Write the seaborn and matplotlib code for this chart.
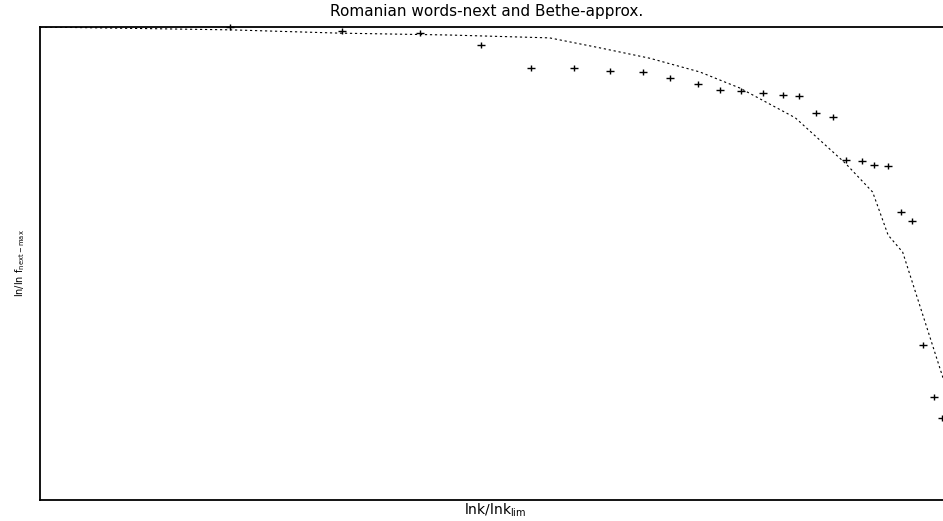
import matplotlib
matplotlib.use("Agg")
import matplotlib.pyplot as plt
from matplotlib.path import Path
import seaborn as sns
import pandas as pd

# Measured data (normalized units)
data_x = [0.209, 0.332, 0.418, 0.485, 0.540, 0.587, 0.626, 0.663, 0.692, 0.723,
          0.747, 0.770, 0.795, 0.816, 0.834, 0.853, 0.871, 0.886, 0.903, 0.916,
          0.932, 0.946, 0.958, 0.970, 0.982, 0.991]
data_y = [1.000, 0.992, 0.987, 0.962, 0.913, 0.913, 0.907, 0.905, 0.892, 0.879,
          0.867, 0.865, 0.860, 0.856, 0.854, 0.818, 0.810, 0.719, 0.717, 0.708,
          0.706, 0.609, 0.590, 0.328, 0.218, 0.173]

bethe_x = [0.0, 0.209, 0.330, 0.451, 0.560, 0.615, 0.670, 0.725, 0.769, 0.830,
           0.885, 0.915, 0.932, 0.948, 0.992, 1.02]
bethe_y = [1.0, 0.994, 0.987, 0.983, 0.977, 0.956, 0.934, 0.905, 0.871, 0.808,
           0.712, 0.651, 0.560, 0.524, 0.260, 0.09]

title = "Romanian words-next and Bethe-approx."
xlabel = "lnk/lnk$_{\\rm lim}$"
ylabel = "ln/ln f$_{\\rm next-max}$"

sns.set_theme(style="white")
plt.rcParams['font.family'] = ['DejaVu Sans']
plt.rcParams['mathtext.fontset'] = 'dejavusans'
plt.rcParams['text.color'] = 'black'
plt.rcParams['axes.labelcolor'] = 'black'

fig = plt.figure(figsize=(9.43, 5.21), dpi=100)
W, H = 943, 521
left, right, top, bottom = 40, 950, 27, 500
ax = fig.add_axes([left / W, (H - bottom) / H, (right - left) / W, (bottom - top) / H])

df_pts = pd.DataFrame({"x": data_x, "y": data_y})
df_line = pd.DataFrame({"x": bethe_x, "y": bethe_y})

# wide plus marker (horizontally stretched like the reference)
plus_wide = Path([(-1.4, 0), (1.4, 0), (0, -1), (0, 1)],
                 [Path.MOVETO, Path.LINETO, Path.MOVETO, Path.LINETO])

sns.lineplot(data=df_line, x="x", y="y", ax=ax, color="black", linewidth=0.8,
             linestyle=(0, (2, 2.5)), sort=False)
sns.scatterplot(data=df_pts, x="x", y="y", ax=ax, marker=plus_wide,
                color="black", edgecolor="black", s=32, linewidth=1.0,
                clip_on=False, zorder=3)

ax.set_xlim(0, 1)
ax.set_ylim(0, 1)
ax.set_xticks([])
ax.set_yticks([])
for sp in ax.spines.values():
    sp.set_color("black")
    sp.set_linewidth(1.3)
ax.set_title(title, fontsize=11, pad=8, x=0.491, color="black")
ax.set_xlabel(xlabel, fontsize=10, labelpad=1)
ax.set_ylabel(ylabel, fontsize=7, labelpad=9)

fig.savefig("out.png", dpi=100)
